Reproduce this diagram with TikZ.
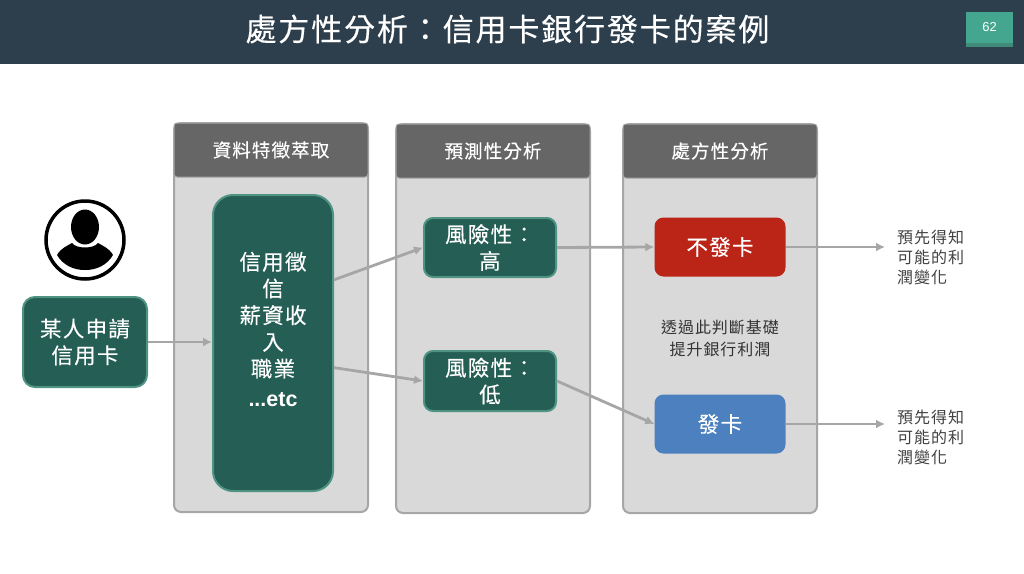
\documentclass[tikz,border=0pt]{standalone}
\usepackage{fontspec}
\setmainfont[LetterSpace=6]{Noto Sans CJK TC}
\newfontfamily\med[LetterSpace=6,FakeBold=0.35]{Noto Sans CJK TC}
\newfontfamily\latin{Liberation Sans}
\usepackage{tikz}
\usetikzlibrary{arrows.meta}
\definecolor{bar}{HTML}{2D3E4C}
\definecolor{num}{HTML}{45A68F}
\definecolor{numdark}{HTML}{3F8A78}
\definecolor{teal1}{HTML}{255E54}
\definecolor{teal2}{HTML}{4F9483}
\definecolor{panelfill}{HTML}{D9D9D9}
\definecolor{line}{HTML}{A6A6A6}
\definecolor{headfill}{HTML}{666666}
\definecolor{noc}{HTML}{BB2518}
\definecolor{yesc}{HTML}{4D80BF}
\tikzstyle{panel}=[rectangle, rounded corners=7pt, draw=line, line width=2pt, fill=panelfill, minimum width=194pt]
\tikzstyle{head}=[rectangle, rounded corners=3pt, draw=line, line width=1pt, fill=headfill, text=white, minimum width=194pt, minimum height=54pt, font=\med\fontsize{18.5}{22}\selectfont]
\tikzstyle{box}=[rectangle, rounded corners=9pt, align=center, text=white, inner sep=0pt, font=\med\fontsize{21.5}{26.7}\selectfont]
\tikzstyle{tealbox}=[box, draw=teal2, line width=2pt, fill=teal1]
\tikzstyle{note}=[align=left, inner sep=0pt, text=black!75, font=\fontsize{16}{20}\selectfont]
\tikzstyle{edge}=[-{Latex[length=9pt, width=9pt]}, line width=2.8pt, draw=line]
\begin{document}
\begin{tikzpicture}[x=1pt, y=-1pt]
	\useasboundingbox (0,0) rectangle (1024,573);
	\fill[bar] (0,0) rectangle (1024,64);
	\draw (507.5,29) node[text=white, inner sep=0pt, font=\med\fontsize{31}{36}\selectfont] (title) {處方性分析^^^^ff1a信用卡銀行發卡的案例};
	\fill[numdark] (966,43) rectangle (1013,47);
	\draw (989.5,27.5) node[rectangle, fill=num, minimum width=47pt, minimum height=31pt, inner sep=0pt, text=white, font=\latin\fontsize{13}{15}\selectfont] (page) {62};
	% panels
	\draw (271,317.5) node[panel, minimum height=389pt] (p1) {};
	\draw (493,318.5) node[panel, minimum height=389pt] (p2) {};
	\draw (720,318.5) node[panel, minimum height=389pt] (p3) {};
	\draw (271,150) node[head] (h1) {資料特徵萃取};
	\draw (493,151) node[head] (h2) {預測性分析};
	\draw (720,151) node[head] (h3) {處方性分析};
	% person
	\draw[line width=3.5pt] (85,240) circle (39);
	\fill (85,227) ellipse (14 and 17.5);
	\fill (57,255) .. controls (61,248) and (67,246) .. (72,243) .. controls (76,249) and (94,249) .. (98,243) .. controls (103,246) and (109,248) .. (113,255) .. controls (107,265) and (97,270) .. (85,270) .. controls (73,270) and (63,265) .. (57,255);
	% boxes
	\draw (85,342) node[tealbox, rounded corners=12pt, minimum width=124pt, minimum height=90pt] (apply) {某人申請\\信用卡};
	\draw (273,343) node[tealbox, rounded corners=20pt, minimum width=120pt, minimum height=296pt] (feat) {信用徵\\信\\薪資收\\入\\職業\\[3pt]{\latin\bfseries ...etc}\\[1pt]\mbox{}};
	\draw (490,247.5) node[tealbox, minimum width=132pt, minimum height=59pt] (high) {風險性^^^^ff1a\\高};
	\draw (490,381) node[tealbox, minimum width=132pt, minimum height=60pt] (low) {風險性^^^^ff1a\\低};
	\draw (720,247) node[box, fill=noc, minimum width=131pt, minimum height=59pt] (no) {不發卡};
	\draw (720,424) node[box, fill=yesc, minimum width=131pt, minimum height=59pt] (yes) {發卡};
	\draw (720,338.5) node[align=center, inner sep=0pt, text=black!80, font=\fontsize{16}{22}\selectfont] (why) {透過此判斷基礎\\提升銀行利潤};
	\draw (897,257) node[note, anchor=west] (n1) {預先得知\\可能的利\\潤變化};
	\draw (897,437) node[note, anchor=west] (n2) {預先得知\\可能的利\\潤變化};
	\coordinate (e1) at (885,247);
	\coordinate (e2) at (885,424);
	% connectors
	\draw[edge] (apply.east) -- (apply.east -| feat.west);
	\draw[edge] (feat.46) -- (high.west);
	\draw[edge] (feat.-22.6) -- (low.west);
	\draw[edge] (high.east) -- (no.west);
	\draw[edge] (low.east) -- (yes.west);
	\draw[edge] (no.east) -- (e1);
	\draw[edge] (yes.east) -- (e2);
\end{tikzpicture}
\end{document}
